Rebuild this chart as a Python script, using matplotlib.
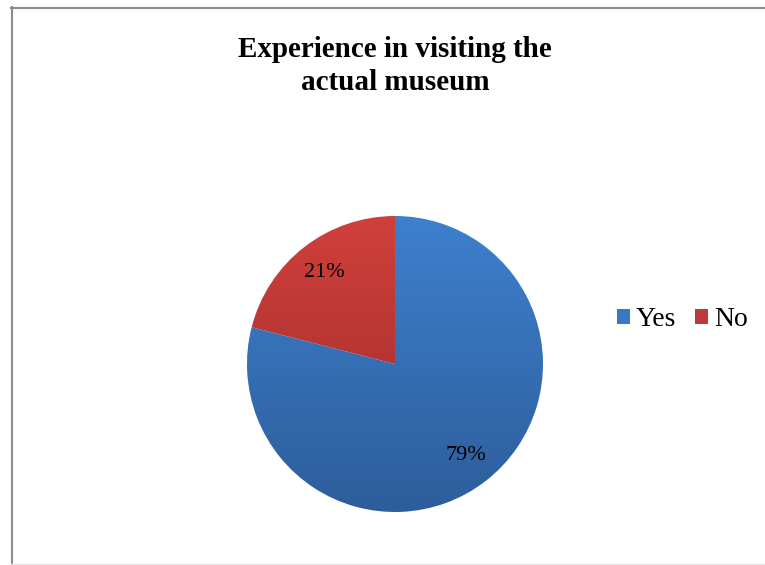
import numpy as np
import matplotlib
matplotlib.use('Agg')
import matplotlib.pyplot as plt
from matplotlib.colors import LinearSegmentedColormap
from matplotlib.patches import Patch
from matplotlib.lines import Line2D

labels = ['Yes', 'No']
shares = [79, 21]
title = 'Experience in visiting the\nactual museum'

# top / bottom shades for the gradient fill of each slice
grad = {
    'Yes': ('#3e80cd', '#2d5d9b'),
    'No': ('#d0403b', '#9a2a29'),
}
solid = {'Yes': '#3a78c4', 'No': '#c0393a'}

plt.rcParams['font.family'] = ['Liberation Serif', 'DejaVu Serif']

fig = plt.figure(figsize=(7.65, 5.65), dpi=100)
W, H = 765, 565

# pie centred at (395, 364) px, radius 148 px
r = 148
ax = fig.add_axes([(395 - r) / W, (H - 364 - r) / H, 2 * r / W, 2 * r / H])
wedges, texts, autotexts = ax.pie(
    shares, startangle=90, counterclock=False, radius=1,
    autopct='%d%%', pctdistance=0.78,
    wedgeprops=dict(edgecolor='none', linewidth=0),
    textprops=dict(fontsize=16, color='black'))
ax.set_xlim(-1, 1)
ax.set_ylim(-1, 1)
ax.set_aspect('equal')

grad_img = np.linspace(1, 0, 256).reshape(-1, 1)
for w, lab in zip(wedges, labels):
    top, bot = grad[lab]
    cmap = LinearSegmentedColormap.from_list(lab, [bot, top])
    w.set_facecolor('none')
    im = ax.imshow(grad_img[::-1], cmap=cmap, extent=(-1, 1, -1, 1),
                   origin='lower', aspect='auto', zorder=0.5)
    im.set_clip_path(w)
for t in autotexts:
    t.set_zorder(3)

fig.text(395 / W, 1 - 66 / H, title, ha='center', va='center',
         fontsize=21, fontweight='bold', linespacing=1.3)

handles = [Patch(facecolor=solid[l], edgecolor='none') for l in labels]
leg = fig.legend(handles, labels, loc='center left',
                 bbox_to_anchor=(617 / W, 1 - 320 / H), ncol=2, frameon=False,
                 fontsize=20, handlelength=0.47, handleheight=0.47,
                 handletextpad=0.22, columnspacing=0.68, borderpad=0,
                 borderaxespad=0)

# outer frame: top and left edges in grey, faint bottom edge
fig.add_artist(Line2D([11 / W, 1], [1 - 7.5 / H] * 2, color='#8c8c8c', lw=1.5,
                      transform=fig.transFigure))
fig.add_artist(Line2D([11.5 / W] * 2, [0, 1 - 7 / H], color='#8c8c8c', lw=1.5,
                      transform=fig.transFigure))
fig.add_artist(Line2D([11 / W, 1], [1.2 / H] * 2, color='#e6e6e6', lw=1,
                      transform=fig.transFigure))

fig.savefig('out.png', dpi=100)
